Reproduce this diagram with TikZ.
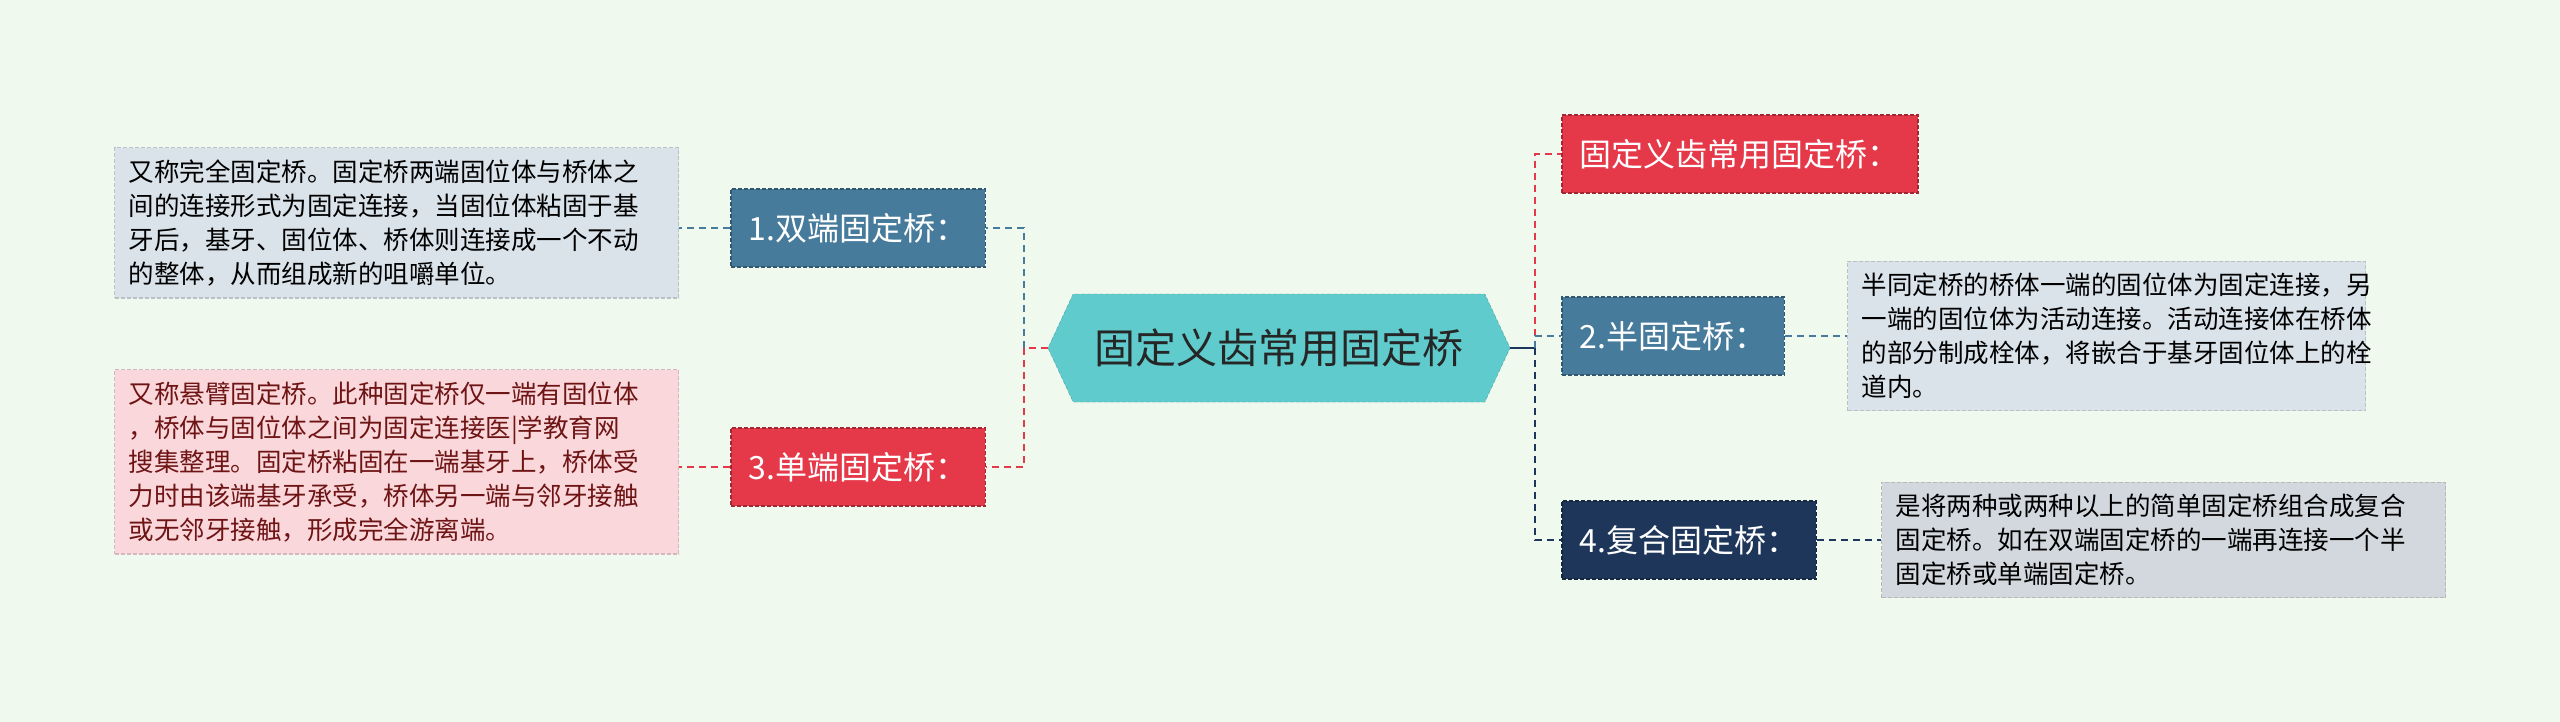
\documentclass[tikz,border=0pt]{standalone}
\usepackage{fontspec}
\setmainfont{Noto Sans CJK SC}
\usetikzlibrary{shapes.geometric,shapes.symbols}
\definecolor{bg}{HTML}{F0F9EE}
\definecolor{hexc}{HTML}{5FCBCC}
\definecolor{bluec}{HTML}{477B9C}
\definecolor{redc}{HTML}{E53849}
\definecolor{navyc}{HTML}{1E365A}
\definecolor{lblue}{HTML}{DAE3EA}
\definecolor{lpink}{HTML}{F9D7DB}
\definecolor{lgrey}{HTML}{D3D8DF}
\definecolor{darkred}{HTML}{6E1414}
\begin{document}
\begin{tikzpicture}[x=1pt,y=-1pt,
  lab/.style={draw=#1!70!black,dash pattern=on 4pt off 2pt,line width=1.5pt,fill=#1,text=white,font=\fontsize{32}{36}\selectfont,anchor=west,inner xsep=18pt,minimum height=78pt},
  desc/.style={draw=#1!85!black,dash pattern=on 4pt off 2pt,line width=1.2pt,fill=#1,font=\fontsize{25.5}{34}\selectfont,align=left,inner xsep=14pt,inner ysep=12pt},
  conn/.style={draw=#1,dash pattern=on 7pt off 5pt,line width=2.5pt}]
\fill[bg] (0,0) rectangle (2560,722);
\useasboundingbox (0,0) rectangle (2560,722);
\node[fill=hexc,draw=hexc!80!black,dash pattern=on 4pt off 2pt,shape=signal,signal to=west and east,signal from=nowhere,signal pointer angle=130,minimum width=462pt,minimum height=108pt,inner xsep=6pt,font=\fontsize{41}{46}\selectfont,text=black!85] (c) at (1279,348) {固定义齿常用固定桥};
% left
\node[lab=bluec] (b1) at (730,228) {1.双端固定桥：};
\node[lab=redc] (b3) at (730,467) {3.单端固定桥：};
\node[desc=lblue,anchor=north west,text width=536pt] (d1) at (114,147) {又称完全固定桥。固定桥两端固位体与桥体之\\间的连接形式为固定连接，当固位体粘固于基\\牙后，基牙、固位体、桥体则连接成一个不动\\的整体，从而组成新的咀嚼单位。};
\node[desc=lpink,anchor=north west,text width=536pt,text=darkred] (d3) at (114,369) {又称悬臂固定桥。此种固定桥仅一端有固位体\\，桥体与固位体之间为固定连接医|学教育网\\搜集整理。固定桥粘固在一端基牙上，桥体受\\力时由该端基牙承受，桥体另一端与邻牙接触\\或无邻牙接触，形成完全游离端。};
\coordinate (jl) at (1024,348);
\draw[conn=redc] (c.west) -- (jl);
\draw[conn=bluec] (jl) |- (b1.east);
\draw[conn=redc] (jl) |- (b3.east);
\draw[conn=bluec] (b1.west) -- (d1.east |- b1.west);
\draw[conn=redc] (b3.west) -- (d3.east |- b3.west);
% right
\node[lab=redc] (b0) at (1561,154) {固定义齿常用固定桥：};
\node[lab=bluec] (b2) at (1561,336) {2.半固定桥：};
\node[lab=navyc] (b4) at (1561,540) {4.复合固定桥：};
\node[desc=lblue,anchor=west,text width=490pt] (d2) at (1847,336) {半同定桥的桥体一端的固位体为固定连接，另\\一端的固位体为活动连接。活动连接体在桥体\\的部分制成栓体，将嵌合于基牙固位体上的栓\\道内。};
\node[desc=lgrey,anchor=west,text width=536pt] (d4) at (1881,540) {是将两种或两种以上的简单固定桥组合成复合\\固定桥。如在双端固定桥的一端再连接一个半\\固定桥或单端固定桥。};
\coordinate (jr) at (1535,348);
\draw[navyc,line width=2.5pt] (c.east) -- (jr);
\draw[conn=redc] (jr) |- (b0.west);
\draw[conn=bluec] (jr) |- (b2.west);
\draw[conn=navyc] (jr) |- (b4.west);
\draw[conn=bluec] (b2.east) -- (d2.west);
\draw[conn=navyc] (b4.east) -- (d4.west);
\end{tikzpicture}
\end{document}
